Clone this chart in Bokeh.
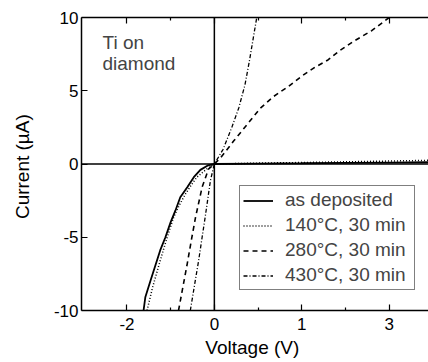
from bokeh.plotting import figure
from bokeh.models import (Range1d, LinearAxis, FixedTicker, Span, Legend, LegendItem, Label)
from bokeh.embed import file_html
from bokeh.resources import INLINE

# ---- data (voltage in tick units, current in µA) ----
as_dep_v = [-1.62, -1.58, -1.46, -1.35, -1.24, -1.12, -1.0, -0.89, -0.78, -0.62, -0.47, -0.32, -0.15, 0.0, 1.0, 2.0, 3.0, 4.0, 4.9]
as_dep_i = [-10.0, -9.1, -7.95, -6.93, -5.9, -5.0, -3.97, -3.17, -2.27, -1.58, -0.9, -0.4, -0.1, 0.0, 0.03, 0.05, 0.08, 0.1, 0.12]

t140_v = [-1.54, -1.42, -1.24, -1.08, -0.93, -0.8, -0.66, -0.52, -0.4, -0.17, 0.0, 1.0, 2.0, 3.0, 4.0, 4.9]
t140_i = [-10.0, -8.5, -6.6, -5.0, -3.63, -2.8, -2.04, -1.4, -0.9, -0.33, 0.0, 0.06, 0.1, 0.15, 0.2, 0.25]

t280_v = [-0.82, -0.72, -0.62, -0.52, -0.43, -0.28, -0.13, 0.0, 0.15, 0.45, 0.75, 1.05, 1.35, 1.7, 2.0, 2.3, 2.6, 2.85, 3.2, 3.6, 4.0]
t280_i = [-10.0, -8.4, -6.8, -5.1, -3.63, -1.58, -0.33, 0.0, 0.45, 1.6, 2.7, 3.8, 4.6, 5.3, 6.0, 6.6, 7.1, 7.7, 8.4, 9.1, 10.0]

t430_v = [-0.55, -0.45, -0.36, -0.28, -0.21, -0.09, 0.0, 0.2, 0.4, 0.56, 0.7, 0.8, 0.97]
t430_i = [-10.0, -8.2, -6.6, -5.0, -3.63, -1.13, 0.0, 1.0, 2.5, 3.84, 5.4, 7.0, 10.0]

labels = ["as deposited", "140\u00b0C, 30 min", "280\u00b0C, 30 min", "430\u00b0C, 30 min"]

x_major = [-2, 0, 2, 4]
x_minor = [-1, 1, 3]
x_tick_labels = {-2: "-2", 0: "0", 2: "1", 4: "3"}
y_ticks = [-10, -5, 0, 5, 10]
y_tick_labels = {-10: "-10", -5: "-5", 0: "0", 5: "5", 10: "10"}

FONT = "Liberation Sans"

p = figure(width=428, height=362, output_backend="svg", toolbar_location=None,
           x_range=Range1d(-3.04, 4.9), y_range=Range1d(-10, 10),
           x_axis_label="Voltage  (V)", y_axis_label="Current  (\u00b5A)",
           min_border_left=81, min_border_right=0, min_border_top=17, min_border_bottom=52)
p.outline_line_color = None
p.grid.visible = False
p.background_fill_color = "white"
p.border_fill_color = "white"

xa = p.xaxis[0]
ya = p.yaxis[0]
xa.ticker = FixedTicker(ticks=x_major, minor_ticks=x_minor)
xa.major_label_overrides = x_tick_labels
ya.ticker = FixedTicker(ticks=y_ticks, minor_ticks=[])
ya.major_label_overrides = y_tick_labels

for ax in (xa, ya):
    ax.major_tick_in = 6
    ax.major_tick_out = 0
    ax.minor_tick_in = 3
    ax.minor_tick_out = 0
    ax.axis_line_width = 1.5
    ax.major_tick_line_width = 1.2
    ax.minor_tick_line_width = 1.2
    ax.major_label_text_font = FONT
    ax.major_label_text_font_size = "17px"
    ax.major_label_text_color = "black"
    ax.axis_label_text_font = FONT
    ax.axis_label_text_font_size = "19px"
    ax.axis_label_text_font_style = "normal"
    ax.axis_label_text_color = "black"
ya.minor_tick_line_color = None
ya.major_label_standoff = 3
ya.axis_label_standoff = 18
xa.major_label_standoff = 7
xa.axis_label_standoff = 4

top = LinearAxis(ticker=FixedTicker(ticks=x_major, minor_ticks=x_minor))
top.major_tick_in = 6
top.major_tick_out = 0
top.minor_tick_in = 3
top.minor_tick_out = 0
top.axis_line_width = 1.5
top.major_tick_line_width = 1.2
top.minor_tick_line_width = 1.2
top.major_label_overrides = {t: "" for t in x_major}
top.major_label_standoff = 0
p.add_layout(top, "above")

p.add_layout(Span(location=0, dimension="width", line_color="black", line_width=1.5))
p.add_layout(Span(location=0, dimension="height", line_color="black", line_width=1.5))

r1 = p.line(as_dep_v, as_dep_i, line_color="black", line_width=1.8)
r2 = p.line(t140_v, t140_i, line_color="black", line_width=1.5, line_dash="1 2")
r3 = p.line(t280_v, t280_i, line_color="black", line_width=1.6, line_dash="5 4")
r4 = p.line(t430_v, t430_i, line_color="black", line_width=1.3, line_dash="4 2 1 2")

legend = Legend(items=[LegendItem(label=l, renderers=[r]) for l, r in zip(labels, [r1, r2, r3, r4])],
                location=(158, 20), border_line_color="black", border_line_width=1.3,
                background_fill_alpha=1.0, padding=3, spacing=3, margin=0,
                glyph_width=30, glyph_height=19, label_height=19, label_width=126,
                label_standoff=12, label_text_font=FONT, label_text_font_size="19px")
p.add_layout(legend, "center")

note_x, note_y = -2.56, 9.0
p.add_layout(Label(x=note_x, y=note_y, text="Ti on\ndiamond", text_font=FONT,
                   text_font_size="19px", text_baseline="top", text_line_height=1.0))

open("out.html", "w").write(file_html(p, INLINE))
